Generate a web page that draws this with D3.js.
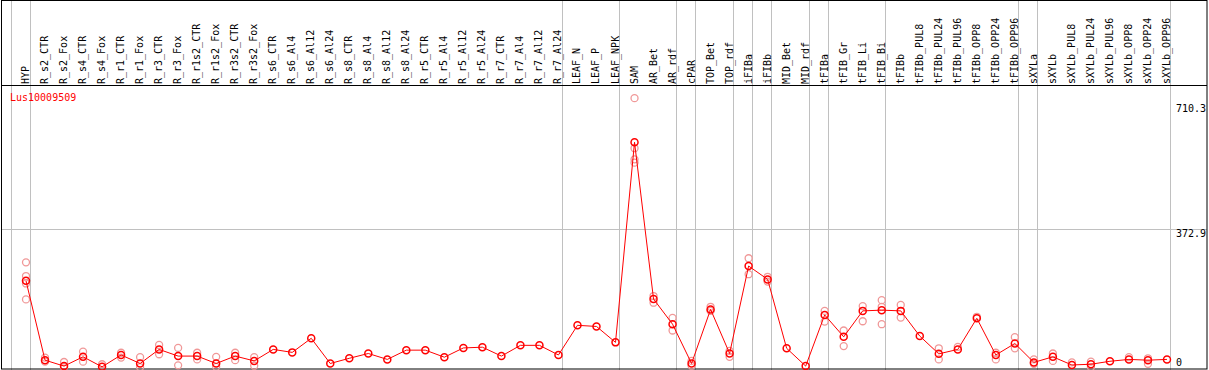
<!DOCTYPE html>
<html>
<head>
<meta charset="utf-8">
<script src="https://cdn.jsdelivr.net/npm/d3@7"></script>
<style>
  body { margin: 0; background: #fff; }
  svg { display: block; }
  text { font-family: "DejaVu Sans Mono", monospace; font-size: 10px; }
</style>
</head>
<body>
<script>
var geneName = "Lus10009509";

var categories = [
  "HYP", "R_s2_CTR", "R_s2_Fox", "R_s4_CTR", "R_s4_Fox", "R_r1_CTR", "R_r1_Fox",
  "R_r3_CTR", "R_r3_Fox", "R_r1s2_CTR", "R_r1s2_Fox", "R_r3s2_CTR", "R_r3s2_Fox",
  "R_s6_CTR", "R_s6_Al4", "R_s6_Al12", "R_s6_Al24", "R_s8_CTR", "R_s8_Al4", "R_s8_Al12",
  "R_s8_Al24", "R_r5_CTR", "R_r5_Al4", "R_r5_Al12", "R_r5_Al24", "R_r7_CTR", "R_r7_Al4",
  "R_r7_Al12", "R_r7_Al24", "LEAF_N", "LEAF_P", "LEAF_NPK", "SAM", "AR_Bet", "AR_rdf",
  "cPAR", "TOP_Bet", "TOP_rdf", "iFIBa", "iFIBb", "MID_Bet", "MID_rdf", "tFIBa",
  "tFIB_Gr", "tFIB_Li", "tFIB_Bi", "tFIBb", "tFIBb_PUL8", "tFIBb_PUL24", "tFIBb_PUL96",
  "tFIBb_OPP8", "tFIBb_OPP24", "tFIBb_OPP96", "sXYLa", "sXYLb", "sXYLb_PUL8",
  "sXYLb_PUL24", "sXYLb_PUL96", "sXYLb_OPP8", "sXYLb_OPP24", "sXYLb_OPP96"
];

// mean expression per sample
var means = [
  233, 19, 3, 28, 1, 33, 10,
  48, 30, 30, 10, 30, 17,
  48, 40, 78, 10, 24, 37, 21,
  46, 46, 27, 52, 54, 30, 59,
  59, 33, 113, 110, 67, 607, 184, 116,
  10, 156, 37, 273, 237, 51, 3, 141,
  82, 152, 154, 152, 84, 36, 48,
  132, 33, 64, 13, 28, 6,
  8, 16, 21, 19, 21
];

// single replicates per sample
var replicates = [
  [283, 246, 226, 183], [26, 15], [14, 0], [42, 15], [8], [39, 26], [27, 0],
  [60, 35], [52, 5], [39, 21], [28, 1], [39, 19], [27, 4],
  [], [], [], [], [], [], [],
  [], [], [], [], [], [], [],
  [], [], [], [], [], [726, 591, 561, 552], [192, 174], [133, 99],
  [17, 4], [163, 152], [44, 28], [294, 251], [244, 231], [], [], [152, 123],
  [99, 57], [165, 124], [181, 163, 116], [168, 134], [], [51, 21], [55],
  [136], [39, 21], [81, 51], [21, 9], [37, 17], [13],
  [15, 0], [], [27], [9, 24], []
];

// first sample of each group (a grey divider is drawn before it)
var groupStarts = ["HYP", "R_s2_CTR", "LEAF_N", "SAM", "cPAR", "TOP_Bet", "iFIBa",
  "iFIBb", "MID_Bet", "tFIBa", "tFIB_Gr", "tFIBb", "sXYLa", "sXYLb"];

var yTicks = [0, 372.9, 710.3];

var w = 1209, h = 370;

var svg = d3.select("body").append("svg")
  .attr("width", w)
  .attr("height", h);

var x = d3.scaleBand()
  .domain(categories)
  .range([10.5, 1170.5]);

var px = function(c) { return x(c) + 15.5; };

var y = d3.scaleLinear()
  .domain([0, 710.3])
  .range([367.2, 104]);

// vertical group dividers
var divX = groupStarts.map(function(c) { return Math.round(x(c)) + 0.5; });
divX.push(Math.round(x.range()[1]) - 0.5);
svg.selectAll("line.div")
  .data(divX)
  .enter().append("line")
  .attr("class", "div")
  .attr("x1", function(d) { return d; })
  .attr("x2", function(d) { return d; })
  .attr("y1", 0)
  .attr("y2", h)
  .attr("stroke", "#c0c0c0");

// horizontal grid at middle tick
svg.append("line")
  .attr("x1", 1).attr("x2", w - 2)
  .attr("y1", Math.round(y(yTicks[1])) + 0.5)
  .attr("y2", Math.round(y(yTicks[1])) + 0.5)
  .attr("stroke", "#c0c0c0");

// frame
svg.append("rect")
  .attr("x", 1.5).attr("y", 0.5)
  .attr("width", w - 3.5).attr("height", h - 1.5)
  .attr("fill", "none")
  .attr("stroke", "#000");
svg.append("line")
  .attr("x1", 1).attr("x2", w - 2)
  .attr("y1", 85.5).attr("y2", 85.5)
  .attr("stroke", "#000");

// column labels
svg.selectAll("text.cat")
  .data(categories)
  .enter().append("text")
  .attr("class", "cat")
  .attr("transform", function(d) { return "translate(" + (px(d) + 3) + ",84) rotate(-90)"; })
  .attr("fill", "#000")
  .text(function(d) { return d; });

// y tick labels on the right
svg.selectAll("text.tick")
  .data(yTicks)
  .enter().append("text")
  .attr("class", "tick")
  .attr("x", 1176)
  .attr("y", function(d) { return Math.min(y(d) + 7.5, 365.5); })
  .attr("fill", "#000")
  .text(function(d) { return d; });

svg.append("text")
  .attr("x", 10)
  .attr("y", 100.5)
  .attr("fill", "#ff0000")
  .text(geneName);

// replicate points
var reps = [];
categories.forEach(function(c, i) {
  replicates[i].forEach(function(v) { reps.push({ c: c, v: v }); });
});
svg.selectAll("circle.rep")
  .data(reps)
  .enter().append("circle")
  .attr("class", "rep")
  .attr("cx", function(d) { return px(d.c); })
  .attr("cy", function(d) { return y(d.v); })
  .attr("r", 3.5)
  .attr("fill", "none")
  .attr("stroke", "#f09898")
  .attr("stroke-width", 1.3);

// mean line
var line = d3.line()
  .x(function(d, i) { return px(categories[i]); })
  .y(function(d) { return y(d); });
svg.append("path")
  .datum(means)
  .attr("d", line)
  .attr("fill", "none")
  .attr("stroke", "#ff0000")
  .attr("stroke-width", 1);

svg.selectAll("circle.mean")
  .data(means)
  .enter().append("circle")
  .attr("class", "mean")
  .attr("cx", function(d, i) { return px(categories[i]); })
  .attr("cy", function(d) { return y(d); })
  .attr("r", 3.5)
  .attr("fill", "none")
  .attr("stroke", "#ff0000")
  .attr("stroke-width", 1.5);
</script>
</body>
</html>
